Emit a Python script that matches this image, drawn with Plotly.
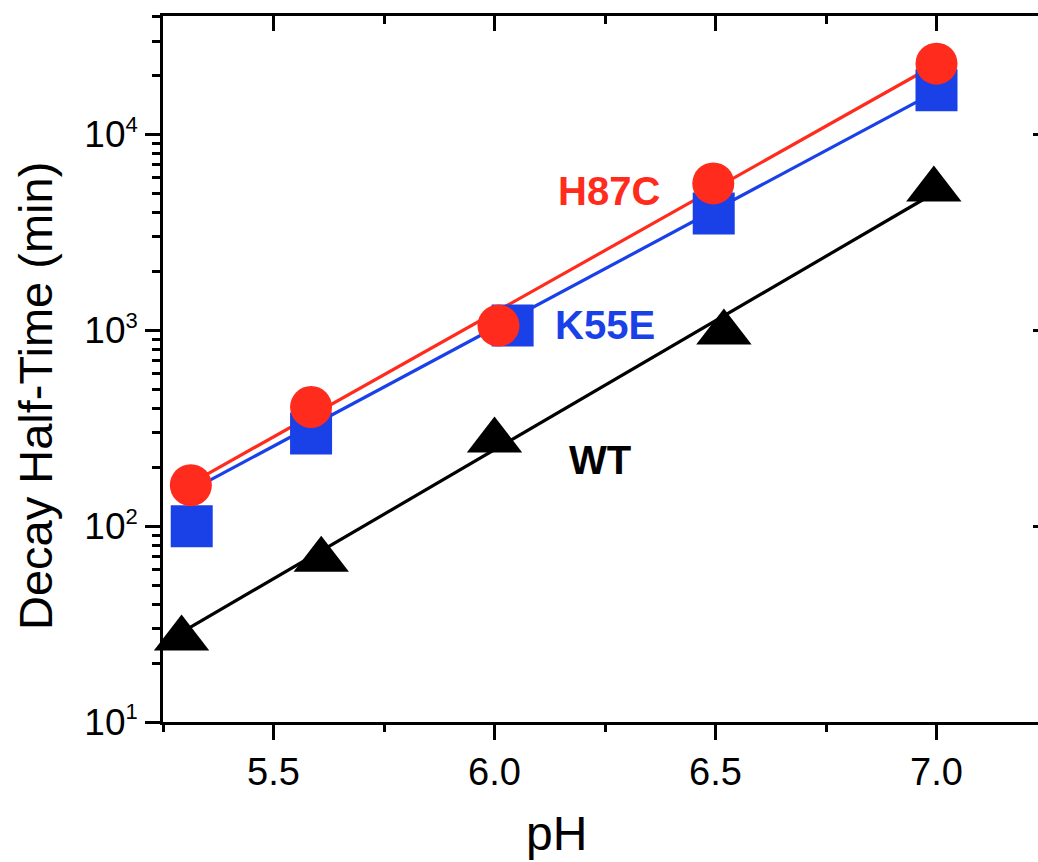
import plotly.graph_objects as go

# ---- data ----
h87c_ph = [5.313, 5.585, 6.009, 6.495, 7.0]
h87c_t = [162, 406, 1057, 5625, 23000]
k55e_ph = [5.315, 5.585, 6.041, 6.496, 7.0]
k55e_t = [100, 297, 1057, 3950, 16800]
wt_ph = [5.292, 5.608, 6.0, 6.519, 6.994]
wt_t = [26.7, 67.3, 274, 975, 5240]

# fitted lines (end points)
h87c_fit_ph = [5.31, 7.0]
h87c_fit_t = [164, 22900]
k55e_fit_ph = [5.31, 7.0]
k55e_fit_t = [151, 16600]
wt_fit_ph = [5.29, 7.0]
wt_fit_t = [28.5, 5100]

x_tickvals = [5.5, 6.0, 6.5, 7.0]
x_ticktext = ["5.5", "6.0", "6.5", "7.0"]
x_minor = [5.25, 5.75, 6.25, 6.75, 7.25]
y_tickvals = [10, 100, 1000, 10000]
y_exponents = ["1", "2", "3", "4"]
y_ticktext = ["10<sup><span style='font-size:22px'>%s</span></sup>" % e for e in y_exponents]
y_minor = [m * 10 ** e for e in range(1, 5) for m in range(2, 10)]

RED = "#FF2B1C"
BLUE = "#1A40E8"
BLACK = "#000000"
FONT = "Liberation Sans, Arial, sans-serif"

fig = go.Figure()
fig.add_trace(go.Scatter(x=h87c_fit_ph, y=h87c_fit_t, mode="lines",
                         line=dict(color=RED, width=3.2), showlegend=False))
fig.add_trace(go.Scatter(x=k55e_fit_ph, y=k55e_fit_t, mode="lines",
                         line=dict(color=BLUE, width=3.2), showlegend=False))
fig.add_trace(go.Scatter(x=wt_fit_ph, y=wt_fit_t, mode="lines",
                         line=dict(color=BLACK, width=3.2), showlegend=False))
fig.add_trace(go.Scatter(x=k55e_ph, y=k55e_t, mode="markers",
                         marker=dict(symbol="square", size=42, color=BLUE, line=dict(width=0)),
                         showlegend=False, cliponaxis=False))
fig.add_trace(go.Scatter(x=h87c_ph, y=h87c_t, mode="markers",
                         marker=dict(symbol="circle", size=42, color=RED, line=dict(width=0)),
                         showlegend=False, cliponaxis=False))
fig.add_trace(go.Scatter(x=wt_ph, y=wt_t, mode="markers",
                         marker=dict(symbol="triangle-up", size=48, color=BLACK, line=dict(width=0)),
                         showlegend=False, cliponaxis=False))

xr = [5.25, 5.25 + 875 / 442]
yr = [1, 4.605]

fig.update_layout(
    width=1038, height=862,
    margin=dict(l=163, r=0, t=16, b=140),
    paper_bgcolor="white", plot_bgcolor="white",
    font=dict(family=FONT, color="black"),
    xaxis=dict(range=xr, showgrid=False, zeroline=False,
               showline=True, linecolor="black", linewidth=2.7,
               ticks="outside", ticklen=15, tickwidth=2.5, tickcolor="black",
               tickvals=x_tickvals, ticktext=x_ticktext,
               tickfont=dict(size=38, family=FONT),
               minor=dict(ticks="outside", ticklen=7, tickwidth=2.5, tickcolor="black",
                          tickvals=x_minor)),
    yaxis=dict(type="log", range=yr, showgrid=False, zeroline=False,
               showline=True, linecolor="black", linewidth=2.7,
               ticks="outside", ticklen=15, tickwidth=2.5, tickcolor="black",
               tickvals=y_tickvals, ticktext=y_ticktext,
               tickfont=dict(size=37, family=FONT),
               minor=dict(ticks="outside", ticklen=8, tickwidth=2.5, tickcolor="black",
                          tickvals=y_minor)),
    xaxis2=dict(overlaying="x", side="top", anchor="y", range=xr,
                showgrid=False, zeroline=False, showline=True,
                linecolor="black", linewidth=2.7,
                ticks="inside", ticklen=15, tickwidth=2.5, tickcolor="black",
                tickvals=x_tickvals, showticklabels=False,
                minor=dict(ticks="inside", ticklen=8, tickwidth=2.5, tickcolor="black",
                           tickvals=x_minor)),
    yaxis2=dict(type="log", overlaying="y", side="right", anchor="x", range=yr,
                showgrid=False, zeroline=False, showline=False,
                ticks="inside", ticklen=5, tickwidth=2.5, tickcolor="black",
                tickvals=y_tickvals, showticklabels=False),
)

fig.add_trace(go.Scatter(x=[], y=[], xaxis="x2", yaxis="y2", showlegend=False))

ann_font = "Liberation Sans Narrow, Liberation Sans, Arial, sans-serif"
fig.add_annotation(x=6.258, y=3.711, xref="x", yref="y", text="<b>H87C</b>", showarrow=False,
                   font=dict(size=40, color=RED, family=ann_font), xanchor="center", yanchor="middle")
fig.add_annotation(x=6.25, y=3.027, xref="x", yref="y", text="<b>K55E</b>", showarrow=False,
                   font=dict(size=40, color=BLUE, family=ann_font), xanchor="center", yanchor="middle")
fig.add_annotation(x=6.239, y=2.336, xref="x", yref="y", text="<b>WT</b>", showarrow=False,
                   font=dict(size=40, color=BLACK, family=ann_font), xanchor="center", yanchor="middle")

# axis titles
fig.add_annotation(x=(36 - 163) / 875, y=(722 - 396) / 706, xref="paper", yref="paper",
                   text="Decay Half-Time (min)", textangle=-90, showarrow=False,
                   font=dict(size=47, family=FONT, color="black"),
                   xanchor="center", yanchor="middle")
fig.add_annotation(x=(556 - 163) / 875, y=(722 - 834) / 706, xref="paper", yref="paper",
                   text="pH", showarrow=False,
                   font=dict(size=48, family=FONT, color="black"),
                   xanchor="center", yanchor="middle")

fig.write_html("out.html")
